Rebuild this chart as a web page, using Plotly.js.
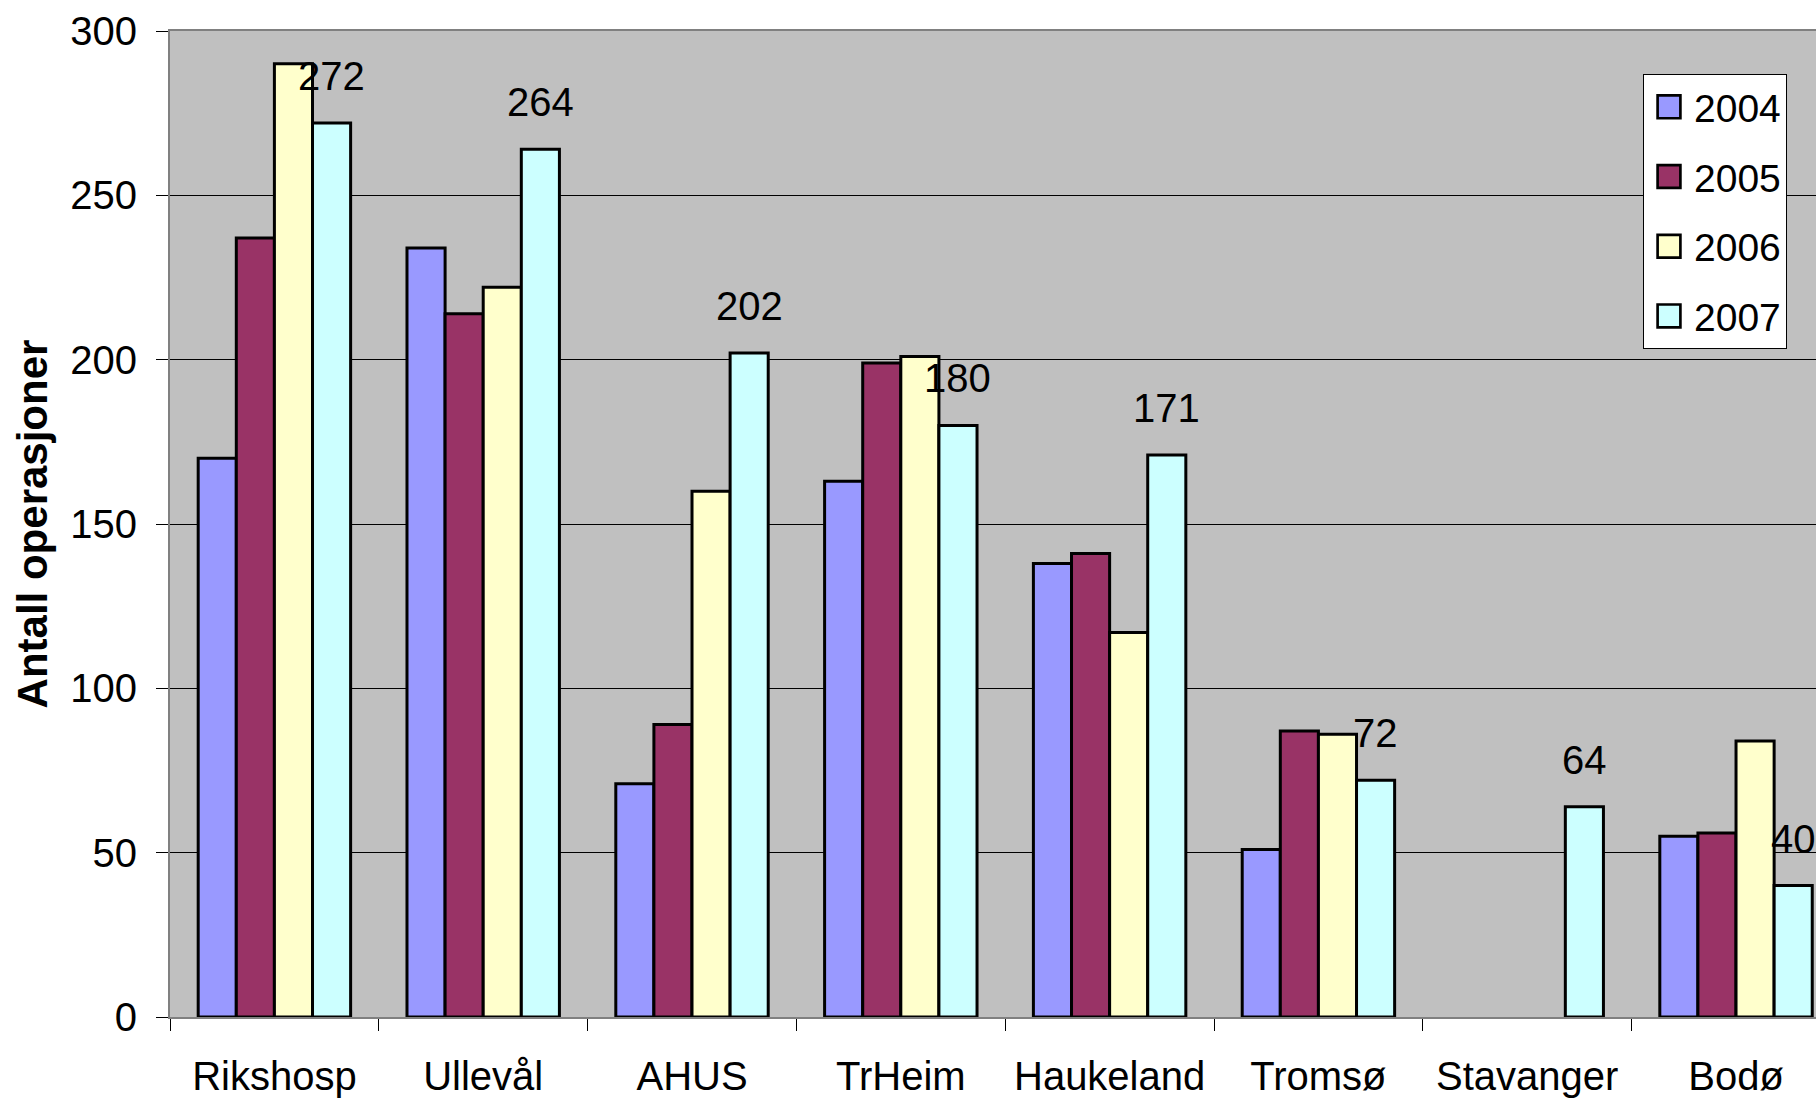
<!DOCTYPE html>
<html>
<head>
<meta charset="utf-8">
<script src="https://cdn.plot.ly/plotly-3.0.1.min.js"></script>
<style>
  html, body { margin: 0; padding: 0; background: #ffffff; overflow: hidden; }
  #chart { width: 1816px; height: 1103px; }
</style>
</head>
<body>
<div id="chart"></div>
<script>
// ---- Data ----
const categories = ["Rikshosp", "Ullevål", "AHUS", "TrHeim", "Haukeland", "Tromsø", "Stavanger", "Bodø"];
const years = ["2004", "2005", "2006", "2007"];
const values2004 = [170, 234, 71, 163, 138, 51, null, 55];
const values2005 = [237, 214, 89, 199, 141, 87, null, 56];
const values2006 = [290, 222, 160, 201, 117, 86, null, 84];
const values2007 = [272, 264, 202, 180, 171, 72, 64, 40];
const yTicks = [0, 50, 100, 150, 200, 250, 300];
const yTitle = "Antall operasjoner";

// ---- Styles ----
const colors = ["#9999FF", "#993366", "#FFFFCC", "#CCFFFF"];
const FONT = "Liberation Sans, Arial, sans-serif";
const seriesValues = [values2004, values2005, values2006, values2007];
const BARGAP = 0.27;

const traces = years.map((yr, i) => ({
  type: "bar",
  name: yr,
  x: categories,
  y: seriesValues[i],
  legendgroup: yr,
  marker: { color: colors[i], line: { color: "#000000", width: 3 } },
  hoverinfo: "x+y+name"
}));

// Labels above the 2007 bars
const groupW = 1 - BARGAP;
const barW = groupW / years.length;
const off2007 = -groupW / 2 + 3.5 * barW;
const annotations = values2007.map((v, i) => ({
  xref: "x", yref: "y",
  x: i + off2007, y: v,
  text: String(v),
  showarrow: false,
  yshift: 47,
  yanchor: "middle",
  xanchor: "center",
  font: { family: FONT, size: 40, color: "#000000" }
}));

const layout = {
  width: 1816,
  height: 1103,
  margin: { l: 170, r: 0, t: 31, b: 86, pad: 0 },
  paper_bgcolor: "#ffffff",
  plot_bgcolor: "#C0C0C0",
  barmode: "group",
  bargap: BARGAP,
  bargroupgap: 0,
  font: { family: FONT, size: 40, color: "#000000" },
  showlegend: true,
  legend: {
    x: 0.8949, y: 0.9564, xanchor: "left", yanchor: "top",
    bgcolor: "#ffffff", bordercolor: "#000000", borderwidth: 1,
    font: { family: FONT, size: 39, color: "#000000" },
    traceorder: "grouped",
    tracegroupgap: 16,
    itemwidth: 40
  },
  xaxis: {
    type: "category",
    range: [-0.5, 7.383],
    showgrid: false,
    zeroline: false,
    showline: true, linecolor: "#808080", linewidth: 2, mirror: true,
    ticks: "outside", tickson: "boundaries", ticklen: 12, tickwidth: 1, tickcolor: "#000000",
    ticklabelstandoff: 23,
    tickfont: { family: FONT, size: 40, color: "#000000" },
    fixedrange: true
  },
  yaxis: {
    range: [0, 300],
    tickvals: yTicks,
    ticktext: yTicks.map(String),
    showgrid: true, gridcolor: "#000000", gridwidth: 1,
    zeroline: false,
    showline: true, linecolor: "#808080", linewidth: 2,
    ticks: "outside", ticklen: 12, tickwidth: 1, tickcolor: "#000000",
    ticklabelstandoff: 11,
    tickfont: { family: FONT, size: 40, color: "#000000" },
    title: { text: yTitle, font: { family: FONT, size: 42, color: "#000000", weight: "bold" }, standoff: 10 },
    fixedrange: true
  },
  annotations: annotations
};

Plotly.newPlot("chart", traces, layout, { displayModeBar: false, staticPlot: true }).then(() => {
  // Enlarge the legend swatches (keep Plotly's own centring transform)
  document.querySelectorAll("#chart .legend .legendpoints path").forEach(p => {
    const t = p.getAttribute("transform") || "";
    p.setAttribute("transform", t + " scale(1.9)");
    p.style.strokeWidth = "1.4px";
  });
});
</script>
</body>
</html>
